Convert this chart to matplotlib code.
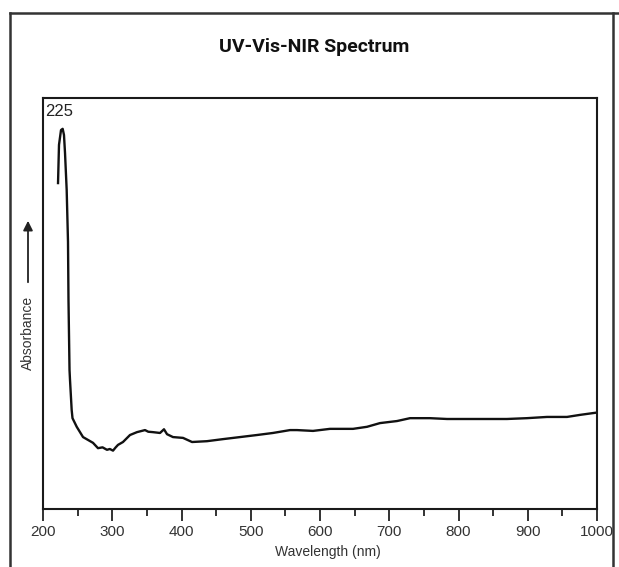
import numpy as np
import matplotlib.pyplot as plt
from matplotlib.lines import Line2D
from matplotlib.patches import FancyArrowPatch

# spectrum (wavelength in nm, absorbance in arbitrary units)
wavelength = [221.7, 223.1, 226.0, 228.4, 230.3, 231.8, 234.2, 236.1, 236.8, 238.3,
              239.0, 241.4, 242.6, 248.7, 257.8, 265.0, 272.2, 279.4, 286.0, 292.4,
              296.5, 301.1, 305.0, 308.3, 315.5, 325.6, 335.7, 347.3, 352.0, 358.8,
              369.0, 374.7, 379.1, 387.7, 402.2, 415.2, 436.8, 459.9, 484.5, 509.0,
              532.1, 556.7, 566.8, 589.9, 614.4, 647.7, 667.9, 686.6, 711.2, 730.0,
              758.8, 783.4, 806.5, 831.0, 870.0, 898.9, 927.8, 956.7, 975.5, 997.1]
absorbance = [0.793, 0.886, 0.922, 0.925, 0.910, 0.866, 0.776, 0.650, 0.509, 0.338,
              0.314, 0.241, 0.221, 0.200, 0.175, 0.168, 0.161, 0.148, 0.150, 0.144,
              0.146, 0.142, 0.150, 0.156, 0.163, 0.180, 0.187, 0.192, 0.188, 0.187,
              0.185, 0.194, 0.182, 0.175, 0.173, 0.163, 0.165, 0.170, 0.175, 0.180,
              0.185, 0.192, 0.192, 0.190, 0.195, 0.195, 0.200, 0.209, 0.214, 0.221,
              0.221, 0.219, 0.219, 0.219, 0.219, 0.221, 0.224, 0.224, 0.229, 0.234]

major_ticks = [200, 300, 400, 500, 600, 700, 800, 900, 1000]
minor_ticks = [250, 350, 450, 550, 650, 750, 850, 950]
peak_label = "225"

plt.rcParams['font.family'] = ['Liberation Sans', 'DejaVu Sans']

fig = plt.figure(figsize=(6.19, 5.67), dpi=100)
ax = fig.add_axes([43 / 619, 58 / 567, 554 / 619, 411 / 567])

ax.plot(wavelength, absorbance, color="#111111", linewidth=1.7)
ax.text(203, 0.985, peak_label, fontsize=12, color="#222222", va="top", ha="left")

ax.set_xlim(200, 1000)
ax.set_ylim(0, 1)
ax.set_xticks(major_ticks)
ax.set_xticks(minor_ticks, minor=True)
ax.set_yticks([])
ax.tick_params(axis="x", which="major", length=8.5, width=1.3, color="#222222",
               labelsize=11, labelcolor="#333333", pad=3)
ax.tick_params(axis="x", which="minor", length=5, width=1.3, color="#222222")
for sp in ax.spines.values():
    sp.set_linewidth(1.5)
    sp.set_color("#1a1a1a")

# x label and title placed in figure coords
fig.text(328 / 619, 1 - 552 / 567, "Wavelength (nm)", fontsize=10, color="#333333",
         ha="center", va="center")
fig.text(314 / 619, 1 - 47 / 567, "UV-Vis-NIR Spectrum", fontsize=14, fontweight="bold",
         family=["Roboto", "Liberation Sans"], color="#111111",
         ha="center", va="center")

# y label with upward arrow
fig.text(28 / 619, 1 - 333 / 567, "Absorbance", fontsize=10, color="#333333",
         rotation=90, ha="center", va="center")
fig.add_artist(FancyArrowPatch(
    (28 / 619, 1 - 285 / 567), (28 / 619, 1 - 218 / 567),
    transform=fig.transFigure, arrowstyle="-|>", mutation_scale=14,
    color="#222222", linewidth=1.3))

# outer frame
fig.add_artist(Line2D([10 / 619, 1], [1 - 12.5 / 567] * 2, transform=fig.transFigure,
                      color="#333333", linewidth=1.8))
fig.add_artist(Line2D([10 / 619] * 2, [0, 1 - 12.5 / 567], transform=fig.transFigure,
                      color="#333333", linewidth=1.8))
fig.add_artist(Line2D([613 / 619] * 2, [0, 1 - 12.5 / 567], transform=fig.transFigure,
                      color="#333333", linewidth=1.8))

fig.savefig("out.png", dpi=100)
